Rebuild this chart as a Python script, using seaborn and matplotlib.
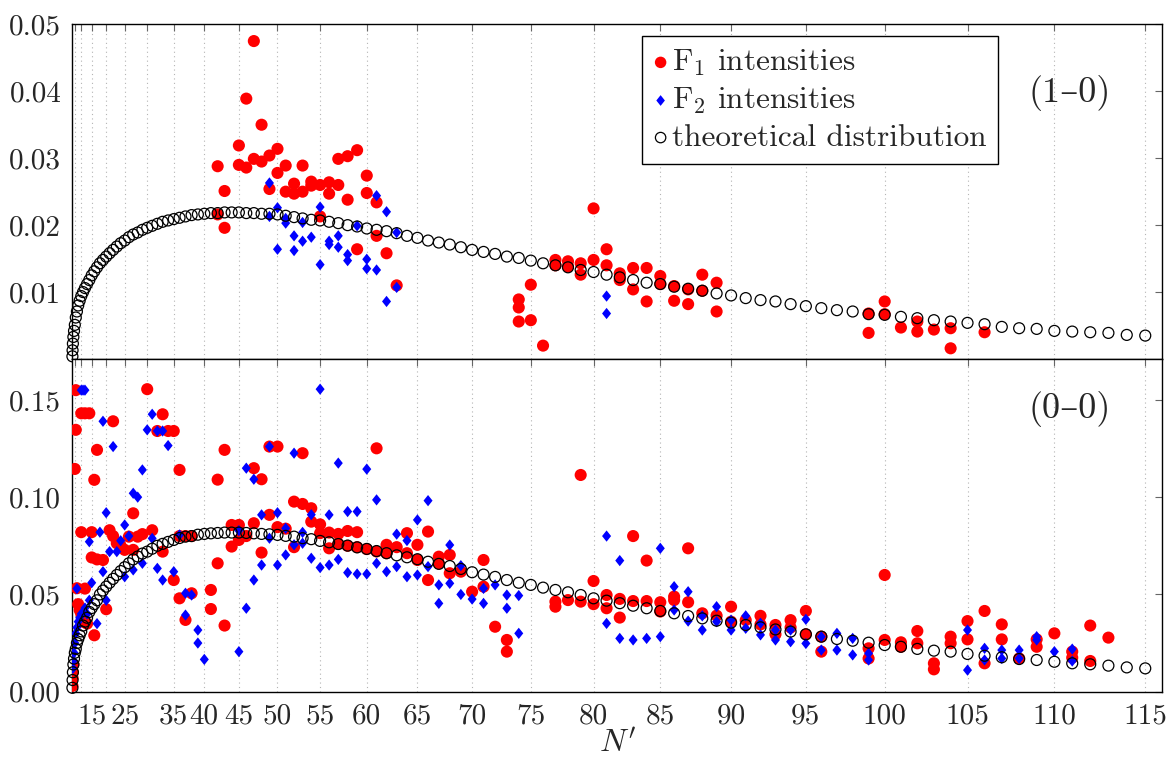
import numpy as np
import pandas as pd
import seaborn as sns
import matplotlib.pyplot as plt
from matplotlib.markers import MarkerStyle
from matplotlib.path import Path
from matplotlib.ticker import FixedLocator, FixedFormatter, FormatStrFormatter

sns.set_theme(style="white")
plt.rcParams["font.family"] = ["cmr10", "DejaVu Serif"]
plt.rcParams["mathtext.fontset"] = "cm"
plt.rcParams["axes.formatter.use_mathtext"] = True

# theoretical distribution, one value per N' = 0..115
theory_top = [0.0004, 0.0013, 0.0023, 0.0033, 0.0042, 0.0051, 0.0062, 0.0071, 0.0080, 0.0087,
              0.0094, 0.0100, 0.0106, 0.0112, 0.0118, 0.0125, 0.0131, 0.0137, 0.0143, 0.0148,
              0.0153, 0.0158, 0.0163, 0.0168, 0.0173, 0.0177, 0.0182, 0.0186, 0.0189, 0.0193,
              0.0196, 0.0199, 0.0202, 0.0205, 0.0207, 0.0209, 0.0211, 0.0213, 0.0215, 0.0216,
              0.0217, 0.0218, 0.0218, 0.0219, 0.0219, 0.0219, 0.0218, 0.0218, 0.0217, 0.0217,
              0.0216, 0.0214, 0.0212, 0.0210, 0.0208, 0.0207, 0.0205, 0.0203, 0.0200, 0.0198,
              0.0195, 0.0193, 0.0191, 0.0188, 0.0184, 0.0181, 0.0177, 0.0174, 0.0171, 0.0167,
              0.0163, 0.0160, 0.0157, 0.0153, 0.0151, 0.0147, 0.0143, 0.0140, 0.0137, 0.0133,
              0.0130, 0.0126, 0.0122, 0.0118, 0.0114, 0.0112, 0.0108, 0.0105, 0.0102, 0.0098,
              0.0095, 0.0091, 0.0088, 0.0086, 0.0082, 0.0079, 0.0076, 0.0073, 0.0071, 0.0067,
              0.0066, 0.0063, 0.0061, 0.0058, 0.0056, 0.0054, 0.0052, 0.0048, 0.0046, 0.0045,
              0.0042, 0.0041, 0.0040, 0.0039, 0.0036, 0.0035]
theory_bot = [0.002, 0.006, 0.010, 0.014, 0.017, 0.020, 0.022, 0.025, 0.027, 0.029,
              0.031, 0.034, 0.036, 0.038, 0.041, 0.043, 0.045, 0.047, 0.050, 0.052,
              0.054, 0.056, 0.058, 0.060, 0.062, 0.064, 0.066, 0.068, 0.0695, 0.071,
              0.072, 0.0735, 0.075, 0.076, 0.077, 0.078, 0.079, 0.0797, 0.080, 0.0807,
              0.0811, 0.0814, 0.0816, 0.0818, 0.0818, 0.0818, 0.0816, 0.0814, 0.0811, 0.0809,
              0.0806, 0.0801, 0.0797, 0.0789, 0.0784, 0.0775, 0.0768, 0.0759, 0.0751, 0.0742,
              0.0734, 0.0723, 0.0712, 0.0701, 0.0691, 0.0681, 0.0668, 0.0657, 0.0646, 0.0631,
              0.0614, 0.0602, 0.0590, 0.0574, 0.0560, 0.0549, 0.0535, 0.0523, 0.0511, 0.0497,
              0.0480, 0.0468, 0.0455, 0.0442, 0.0429, 0.0415, 0.0403, 0.0389, 0.0377, 0.0365,
              0.0355, 0.0343, 0.0331, 0.0320, 0.0309, 0.0295, 0.0283, 0.0271, 0.0262, 0.0252,
              0.0240, 0.0231, 0.0220, 0.0211, 0.0206, 0.0194, 0.0185, 0.0177, 0.0168, 0.0163,
              0.0154, 0.0146, 0.0141, 0.0134, 0.0125, 0.0120]
n_theory = list(range(116))

# measured intensities (N', value), (1-0) band
f1_top = [(42, .0288), (42, .0216), (43, .0251), (43, .0196), (45, .0319), (45, .0290),
          (46, .0389), (46, .0286), (47, .0475), (47, .0299), (48, .0350), (48, .0295),
          (49, .0304), (49, .0254), (50, .0314), (50, .0278), (51, .0289), (51, .0250),
          (52, .0262), (52, .0247), (53, .0289), (53, .0250), (54, .0265), (54, .0259),
          (55, .0260), (55, .0213), (56, .0264), (56, .0247), (57, .0299), (57, .0260),
          (58, .0303), (58, .0238), (59, .0312), (59, .0164), (60, .0274), (60, .0248),
          (61, .0234), (61, .0184), (62, .0158), (63, .0110), (74, .0089), (74, .0077),
          (74, .0056), (75, .0111), (75, .0058), (76, .0020), (77, .0148), (77, .0140),
          (78, .0146), (78, .0138), (79, .0143), (79, .0126), (80, .0225), (80, .0148),
          (81, .0164), (81, .0140), (82, .0128), (82, .0118), (83, .0136), (83, .0104),
          (84, .0136), (84, .0086), (85, .0124), (85, .0112), (86, .0109), (86, .0087),
          (87, .0104), (87, .0082), (88, .0126), (88, .0102), (89, .0114), (89, .0071),
          (99, .0068), (99, .0039), (100, .0086), (100, .0067), (101, .0047), (102, .0056),
          (102, .0041), (103, .0044), (104, .0046), (104, .0016), (106, .0040)]
f2_top = [(49, .0263), (49, .0213), (50, .0226), (50, .0164), (51, .0210), (51, .0203),
          (52, .0184), (52, .0162), (53, .0204), (53, .0176), (54, .0182), (55, .0227),
          (55, .0141), (56, .0176), (56, .0171), (57, .0184), (57, .0167), (58, .0156),
          (58, .0147), (59, .0199), (60, .0149), (60, .0135), (61, .0244), (61, .0133),
          (62, .0220), (62, .0086), (63, .0189), (63, .0107), (81, .0094), (81, .0068)]

# (0-0) band
f1_bot = [(0, .003), (1, .007), (2, .010), (3, .014), (5, .1145), (6, .155), (6, .1346),
          (7, .0532), (8, .045), (9, .042), (10, .1431), (10, .082), (10, .040), (11, .036),
          (12, .1431), (12, .053), (13, .035), (14, .1431), (15, .082), (15, .069), (16, .1089),
          (16, .029), (17, .1243), (17, .068), (19, .0677), (20, .0424), (21, .083), (22, .139),
          (22, .080), (23, .0763), (24, .075), (25, .0729), (26, .0797), (27, .0917), (27, .0729),
          (28, .0797), (29, .081), (30, .1555), (31, .083), (32, .134), (33, .1426), (33, .072),
          (34, .134), (35, .134), (35, .0574), (36, .114), (36, .080), (36, .048), (37, .080),
          (37, .0369), (38, .080), (38, .0506), (41, .0523), (41, .0425), (42, .109), (42, .066),
          (43, .1243), (43, .034), (44, .0857), (44, .0746), (45, .0857), (45, .078), (46, .080),
          (47, .1149), (47, .0866), (48, .1092), (48, .0715), (49, .126), (49, .0909), (50, .126),
          (50, .0846), (51, .0838), (52, .0977), (52, .0743), (53, .1226), (53, .0965), (54, .0943),
          (54, .0874), (55, .086), (55, .0815), (56, .0818), (56, .0737), (57, .0811), (57, .076),
          (58, .0826), (58, .075), (59, .082), (59, .0743), (60, .0733), (61, .1251), (61, .0721),
          (62, .0755), (62, .0712), (63, .0743), (64, .0815), (64, .0712), (65, .0755), (65, .0677),
          (66, .0823), (66, .0574), (67, .0694), (67, .066), (68, .0703), (68, .0609), (69, .0617),
          (70, .0514), (71, .0677), (71, .054), (72, .0334), (73, .0266), (73, .0206), (77, .0463),
          (77, .0437), (78, .0471), (79, .1114), (79, .0463), (80, .0569), (80, .045), (81, .0497),
          (81, .0429), (82, .0477), (82, .0381), (83, .080), (83, .0466), (84, .0674), (84, .0466),
          (85, .046), (85, .0412), (86, .0489), (86, .0471), (87, .0737), (87, .046), (88, .0403),
          (89, .0391), (90, .0437), (90, .036), (91, .0368), (92, .039), (92, .0346), (93, .0343),
          (93, .0295), (94, .0368), (94, .033), (95, .0415), (95, .0295), (96, .0283), (96, .0206),
          (99, .0223), (99, .0171), (100, .060), (100, .0266), (101, .0254), (101, .0231),
          (102, .0312), (102, .0249), (103, .0146), (103, .0115), (104, .0283), (104, .0249),
          (105, .0363), (105, .0269), (106, .0415), (106, .0146), (107, .0346), (107, .0269),
          (108, .0171), (109, .0269), (109, .0231), (110, .030), (111, .0206), (111, .0175),
          (112, .034), (112, .0158), (113, .0278)]
f2_bot = [(2, .012), (3, .016), (4, .020), (5, .025), (6, .030), (7, .053), (7, .033), (8, .036),
          (9, .038), (10, .155), (10, .040), (11, .155), (12, .155), (12, .043), (13, .040),
          (14, .0771), (14, .047), (15, .056), (17, .035), (18, .082), (19, .139), (19, .0617),
          (20, .092), (20, .047), (21, .072), (22, .126), (23, .072), (24, .0776), (25, .0857),
          (25, .0591), (26, .080), (27, .102), (27, .0626), (28, .100), (29, .114), (29, .066),
          (30, .1346), (31, .1426), (31, .0788), (32, .134), (32, .0634), (33, .134), (33, .0574),
          (34, .1265), (35, .0617), (36, .0806), (37, .0506), (37, .0394), (38, .0497), (39, .0317),
          (39, .025), (40, .0166), (45, .0828), (45, .0206), (46, .1149), (46, .0429), (47, .1092),
          (47, .0574), (48, .0909), (48, .0651), (49, .126), (49, .0789), (50, .092), (50, .0651),
          (51, .084), (51, .0703), (52, .1226), (52, .0755), (53, .0819), (53, .0763), (54, .091),
          (54, .0686), (55, .1555), (55, .0638), (56, .0909), (56, .0651), (57, .1175), (57, .068),
          (58, .0926), (58, .0612), (59, .0926), (59, .0605), (60, .1144), (60, .0605), (61, .0986),
          (61, .066), (62, .0617), (63, .081), (63, .0643), (64, .0777), (64, .0591), (65, .0883),
          (65, .06), (66, .0982), (66, .0643), (67, .0549), (67, .0454), (68, .0754), (68, .0557),
          (69, .0648), (69, .05), (70, .0476), (71, .0531), (71, .0454), (72, .0549), (73, .0497),
          (73, .0429), (74, .0494), (74, .030), (81, .080), (81, .0351), (82, .0674), (82, .0274),
          (83, .0266), (84, .0274), (85, .0737), (85, .0283), (86, .054), (86, .042), (87, .0514),
          (87, .0363), (88, .039), (88, .0317), (89, .0437), (89, .036), (90, .0368), (90, .0317),
          (91, .039), (91, .0326), (92, .0352), (92, .0292), (93, .0317), (93, .0266), (94, .0317),
          (94, .0257), (95, .0372), (95, .0248), (96, .0283), (96, .0214), (97, .030), (97, .0214),
          (98, .0274), (98, .0189), (99, .0197), (99, .0163), (105, .0317), (105, .0111),
          (106, .0223), (106, .0163), (107, .0214), (107, .0171), (108, .0214), (108, .0171),
          (109, .0283), (109, .0266), (110, .0206), (111, .0219), (111, .0158)]

xtick_pos = list(range(5, 116, 5))
xtick_lab = ["", "", "15", "", "25", "", "35", "40", "45", "50", "55", "60", "65", "70",
             "75", "80", "85", "90", "95", "100", "105", "110", "115"]


# axis is linear in rotational energy ~ N'(N'+1)
def fwd(n):
    n = np.asarray(n, dtype=float) + 0.5
    return np.sign(n) * n ** 2


def inv(e):
    e = np.asarray(e, dtype=float)
    return np.sign(e) * np.sqrt(np.abs(e)) - 0.5


diamond = MarkerStyle(Path([(0, 0.5), (0.4, 0), (0, -0.5), (-0.4, 0), (0, 0.5)],
                           [Path.MOVETO, Path.LINETO, Path.LINETO, Path.LINETO, Path.CLOSEPOLY]))

fig = plt.figure(figsize=(11.66, 7.65), dpi=100)
ax1 = fig.add_axes([0.0621, 0.5307, 0.9345, 0.4375])
ax2 = fig.add_axes([0.0621, 0.0958, 0.9345, 0.4349])

panels = [(ax1, f1_top, f2_top, theory_top, "(1–0)", 0.796),
          (ax2, f1_bot, f2_bot, theory_bot, "(0–0)", 0.85)]

for ax, f1, f2, th, tag, ty in panels:
    d1 = pd.DataFrame(f1, columns=["N", "I"])
    d2 = pd.DataFrame(f2, columns=["N", "I"])
    sns.scatterplot(data=d1, x="N", y="I", ax=ax, color="#ff0000", marker="o", s=76,
                    edgecolor="none", linewidth=0, label=r"F$_1$ intensities", zorder=3)
    sns.scatterplot(data=d2, x="N", y="I", ax=ax, color="#0000ff", marker=diamond, s=66,
                    edgecolor="none", linewidth=0, label=r"F$_2$ intensities", zorder=4)
    sns.scatterplot(x=n_theory, y=th, ax=ax, color="black", facecolor="none", edgecolor="black",
                    marker="o", s=62, linewidth=0.9, label="theoretical distribution", zorder=5)
    ax.collections[-1].set_clip_on(False)

    ax.set_xscale("function", functions=(fwd, inv))
    ax.set_xlim(0, 115.9)
    ax.xaxis.set_major_locator(FixedLocator(xtick_pos))
    ax.xaxis.set_major_formatter(FixedFormatter(xtick_lab))
    ax.xaxis.set_minor_locator(FixedLocator([]))
    ax.xaxis.grid(True, linestyle=(0, (1, 3)), color="#b4b4b4", linewidth=0.8)
    ax.yaxis.grid(False)
    ax.yaxis.set_major_formatter(FormatStrFormatter("%.2f"))
    ax.tick_params(direction="in", length=5, width=0.8, color="#666666", top=True, right=True,
                   labelsize=21, pad=8)
    for sp in ax.spines.values():
        sp.set_color("black")
        sp.set_linewidth(1.0)
    ax.set_ylabel("")
    ax.set_xlabel("")
    ax.text(0.915, ty, tag, transform=ax.transAxes, ha="center", va="center", fontsize=26)

ax1.set_ylim(0, 0.05)
ax1.set_yticks([0.01, 0.02, 0.03, 0.04, 0.05])
ax1.tick_params(labelbottom=False)
ax2.set_ylim(0, 0.171)
ax2.set_yticks([0.0, 0.05, 0.10, 0.15])
ax2.set_xlabel(r"$N'$", fontsize=23, labelpad=0)

leg = ax1.legend(loc="upper right", bbox_to_anchor=(0.8495, 0.966), frameon=True,
                 fancybox=False, edgecolor="black", framealpha=1, borderaxespad=0,
                 handletextpad=0.15, handlelength=0.4, labelspacing=0.25, borderpad=0.38,
                 markerscale=0.95, fontsize=22.5)
leg.get_frame().set_linewidth(1.0)
if ax2.get_legend() is not None:
    ax2.get_legend().remove()

fig.savefig("out.png", dpi=100)
